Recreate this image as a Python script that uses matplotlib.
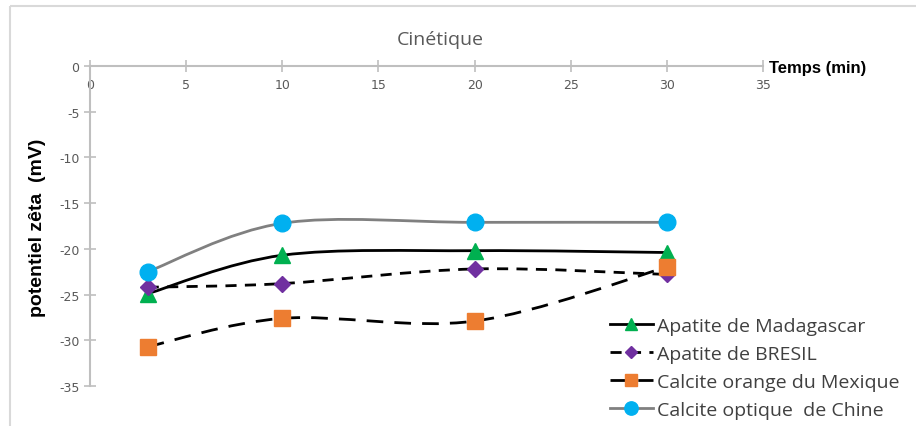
import numpy as np
import matplotlib
matplotlib.use('Agg')
import matplotlib.pyplot as plt
from matplotlib.path import Path
from matplotlib.patches import PathPatch, Rectangle
from matplotlib.lines import Line2D

plt.rcParams['axes.unicode_minus'] = False

# Data
temps = [3, 10, 20, 30]
madagascar = [-24.9, -20.7, -20.2, -20.4]
bresil = [-24.2, -23.8, -22.2, -22.8]
calcite_orange = [-30.7, -27.6, -27.9, -22.0]
calcite_chine = [-22.5, -17.2, -17.1, -17.1]

labels = ['Apatite de Madagascar', 'Apatite de BRESIL',
          'Calcite orange du Mexique', 'Calcite optique  de Chine']


def smooth_path(x, y):
    # Excel-like smoothed line: cubic bezier through the points
    p = np.column_stack([x, y]).astype(float)
    ext = np.vstack([p[0], p, p[-1]])
    verts = [p[0]]
    codes = [Path.MOVETO]
    for i in range(len(p) - 1):
        p0, p1, p2, p3 = ext[i], ext[i + 1], ext[i + 2], ext[i + 3]
        verts += [p1 + (p2 - p0) / 6, p2 - (p3 - p1) / 6, p2]
        codes += [Path.CURVE4] * 3
    return Path(verts, codes)


fig = plt.figure(figsize=(9.16, 4.27), dpi=100)
ax = fig.add_axes([90 / 916, 1 - 387 / 427, 673 / 916, 320 / 427])

# chart border
fig.patches.append(Rectangle((10 / 916, 1 - 7 / 427), 2, -2, transform=fig.transFigure,
                             fill=False, edgecolor='#d9d9d9', linewidth=1.5))

series = [
    (madagascar, dict(color='black', ls='-', lw=2), dict(marker='^', color='#00B050', ms=11)),
    (bresil, dict(color='black', ls=(0, (4, 3)), lw=2), dict(marker='D', color='#7030A0', ms=8)),
    (calcite_orange, dict(color='black', ls=(0, (6, 4)), lw=2), dict(marker='s', color='#ED7D31', ms=11)),
    (calcite_chine, dict(color='#808080', ls='-', lw=2), dict(marker='o', color='#00B0F0', ms=12)),
]

handles = []
for vals, lstyle, mstyle in series:
    patch = PathPatch(smooth_path(temps, vals), facecolor='none', edgecolor=lstyle['color'],
                      linestyle=lstyle['ls'], linewidth=lstyle['lw'], zorder=2)
    ax.add_patch(patch)
    ax.plot(temps, vals, linestyle='none', marker=mstyle['marker'], color=mstyle['color'],
            markersize=mstyle['ms'], zorder=3)
    handles.append(Line2D([], [], color=lstyle['color'], linestyle=lstyle['ls'], linewidth=lstyle['lw'],
                          marker=mstyle['marker'], markerfacecolor=mstyle['color'],
                          markeredgecolor=mstyle['color'], markersize=mstyle['ms'] * 0.8))

ax.set_xlim(0, 35)
ax.set_ylim(-35, 0)
ax.set_xticks(np.arange(0, 36, 5))
ax.set_yticks(np.arange(-35, 1, 5))

for s in ['top', 'right']:
    ax.spines[s].set_visible(False)
ax.spines['bottom'].set_position(('data', 0))
for s in ['bottom', 'left']:
    ax.spines[s].set_color('#bfbfbf')
    ax.spines[s].set_linewidth(1.5)
ax.tick_params(axis='both', direction='inout', length=8, width=1.2, color='#bfbfbf',
               labelcolor='#595959', labelsize=9)
ax.tick_params(axis='x', pad=5)
ax.patch.set_alpha(0)

fig.text(440 / 916, 1 - 40 / 427, 'Cinétique', ha='center', va='center',
         fontsize=14, color='#595959', family='Open Sans')
fig.text(769 / 916, 1 - 68 / 427, 'Temps (min)', ha='left', va='center',
         fontsize=12, fontweight='bold', family='Liberation Sans')
fig.text(38 / 916, 1 - 228 / 427, 'potentiel zêta  (mV)', ha='center', va='center',
         rotation=90, fontsize=14, fontweight='bold', family='Liberation Sans')

fig.legend(handles=handles, labels=labels, loc='upper left',
           bbox_to_anchor=(600 / 916, 1 - 308 / 427), frameon=False,
           labelcolor='#404040', handlelength=2.2, handletextpad=0.25,
           labelspacing=0.52, borderpad=0, prop={'family': 'Open Sans', 'size': 14})

fig.savefig('out.png', dpi=100)
